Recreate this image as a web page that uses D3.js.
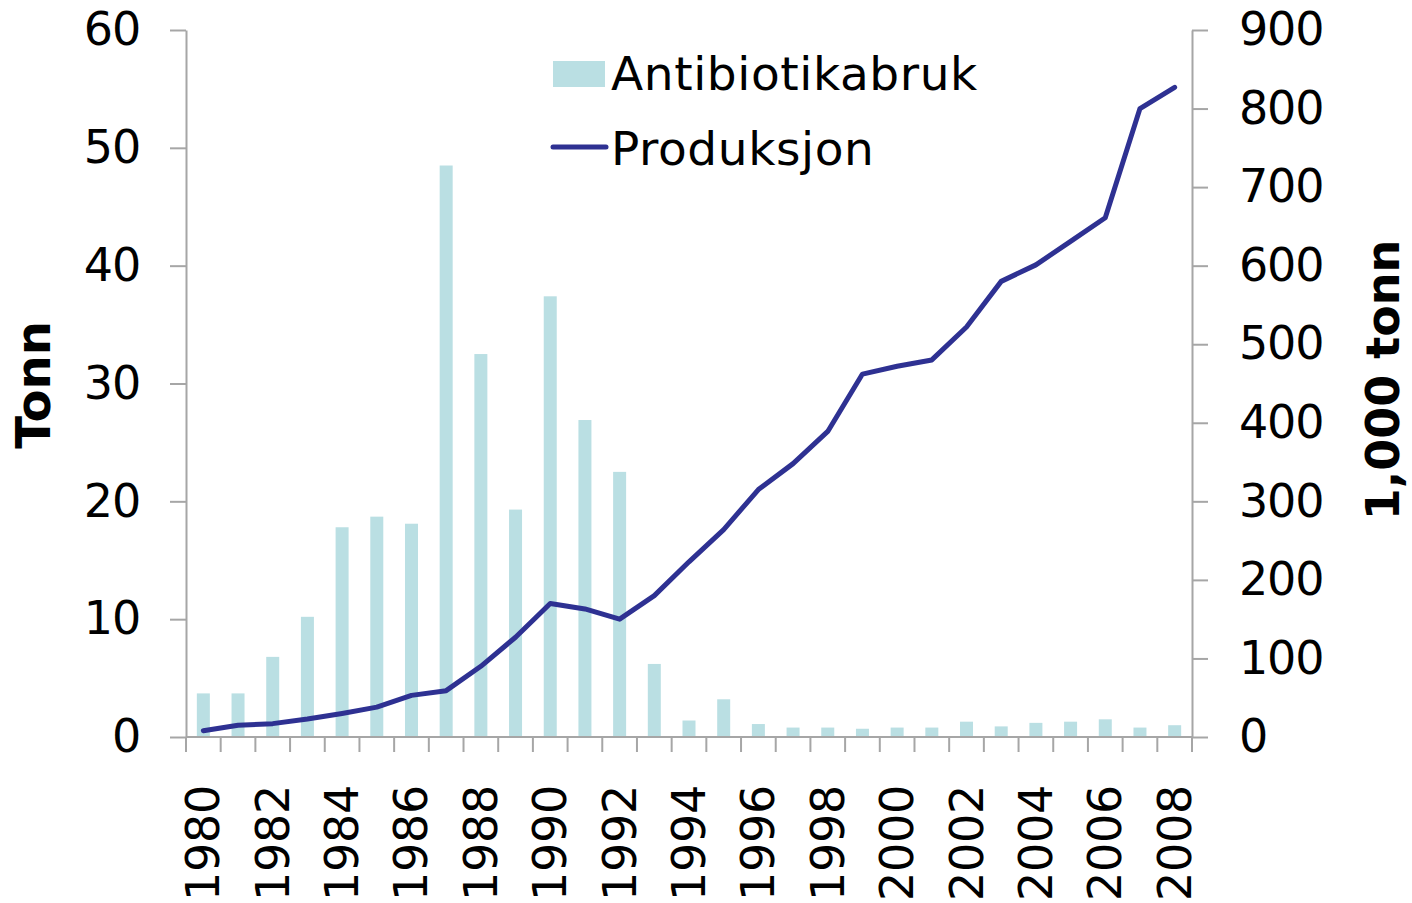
<!DOCTYPE html>
<html>
<head>
<meta charset="utf-8">
<script src="https://cdn.jsdelivr.net/npm/d3@7"></script>
<style>
  html, body { margin: 0; padding: 0; background: #fff; }
  svg { display: block; font-family: "DejaVu Sans", Verdana, sans-serif; }
</style>
</head>
<body>
<svg id="chart" width="1412" height="903"></svg>
<script>
const years = [1980,1981,1982,1983,1984,1985,1986,1987,1988,1989,1990,1991,1992,1993,1994,1995,1996,1997,1998,1999,2000,2001,2002,2003,2004,2005,2006,2007,2008];
const antibiotikabruk = [3.7,3.7,6.8,10.2,17.8,18.7,18.1,48.5,32.5,19.3,37.4,26.9,22.5,6.2,1.4,3.2,1.1,0.8,0.8,0.7,0.8,0.8,1.3,0.9,1.2,1.3,1.5,0.8,1.0];
const produksjon = [8,15,17,23,30,38,53,59,90,127,170,163,150,180,223,264,315,348,389,462,472,480,522,580,601,631,661,800,827];
const leftTicks = [0,10,20,30,40,50,60];
const rightTicks = [0,100,200,300,400,500,600,700,800,900];
const yearLabels = years.filter(y => y % 2 === 0);
const seriesNames = ["Antibiotikabruk", "Produksjon"];
const titles = { left: "Tonn", right: "1,000 tonn" };

const svg = d3.select("#chart");
const L = 186, R = 1192, T = 30, B = 737;
const axisColor = "#a6a6a6";
const barColor = "#badfe3";
const lineColor = "#2e3192";

const x = d3.scaleBand().domain(years).range([L, R]).paddingInner(0).paddingOuter(0);
const yL = d3.scaleLinear().domain([0, 60]).range([B, T]);
const yR = d3.scaleLinear().domain([0, 900]).range([B, T]);

// Bars
const bw = 13;
svg.append("g").selectAll("rect").data(years).join("rect")
  .attr("x", (d) => x(d) + x.bandwidth() / 2 - bw / 2)
  .attr("y", (d, i) => yL(antibiotikabruk[i]))
  .attr("width", bw)
  .attr("height", (d, i) => B - yL(antibiotikabruk[i]))
  .attr("fill", barColor);

// Left axis
const gL = svg.append("g").attr("transform", `translate(${L},0)`)
  .call(d3.axisLeft(yL).tickValues(leftTicks).tickSize(16).tickSizeOuter(0).tickPadding(30));
// Right axis
const gR = svg.append("g").attr("transform", `translate(${R},0)`)
  .call(d3.axisRight(yR).tickValues(rightTicks).tickSize(16).tickSizeOuter(0).tickPadding(31));
// Bottom axis: ticks at category boundaries
const gB = svg.append("g");
gB.append("line").attr("x1", L).attr("x2", R).attr("y1", B).attr("y2", B);
const bounds = years.map(d => x(d)).concat([x(years[years.length - 1]) + x.bandwidth()]);
gB.selectAll("line.tk").data(bounds).join("line").attr("class", "tk")
  .attr("x1", d => d).attr("x2", d => d).attr("y1", B).attr("y2", B + 15);
gB.selectAll("line").attr("stroke", axisColor).attr("stroke-width", 2);
gB.selectAll("text").data(yearLabels).join("text")
  .attr("transform", d => `translate(${x(d) + x.bandwidth() / 2},785) rotate(-90)`)
  .attr("text-anchor", "end")
  .attr("dominant-baseline", "central")
  .attr("font-size", 46)
  .attr("letter-spacing", -0.3)
  .attr("fill", "#000")
  .text(d => d);

[gL, gR].forEach(g => {
  g.select(".domain").attr("stroke", axisColor).attr("stroke-width", 2);
  g.selectAll(".tick line").attr("stroke", axisColor).attr("stroke-width", 2);
  g.selectAll(".tick text").attr("font-size", 46).attr("fill", "#000")
    .attr("font-family", "DejaVu Sans, Verdana, sans-serif").attr("letter-spacing", -1.2);
});

// Line
const line = d3.line().x((d, i) => x(years[i]) + x.bandwidth() / 2).y(d => yR(d));
svg.append("path").datum(produksjon)
  .attr("d", line).attr("fill", "none")
  .attr("stroke", lineColor).attr("stroke-width", 5)
  .attr("stroke-linejoin", "round").attr("stroke-linecap", "round");

// Axis titles
svg.append("text").attr("transform", "translate(50,385) rotate(-90)")
  .attr("text-anchor", "middle").attr("font-size", 48).attr("font-weight", "bold")
  .text(titles.left);
svg.append("text").attr("transform", "translate(1399,380) rotate(-90)")
  .attr("text-anchor", "middle").attr("font-size", 46).attr("font-weight", "bold")
  .text(titles.right);

// Legend
const lg = svg.append("g");
lg.append("rect").attr("x", 553).attr("y", 61).attr("width", 52).attr("height", 26).attr("fill", barColor);
lg.append("text").attr("x", 611).attr("y", 90).attr("font-size", 47).attr("letter-spacing", 0.6).text(seriesNames[0]);
lg.append("line").attr("x1", 553).attr("x2", 606).attr("y1", 147).attr("y2", 147)
  .attr("stroke", lineColor).attr("stroke-width", 5).attr("stroke-linecap", "round");
lg.append("text").attr("x", 611).attr("y", 165).attr("font-size", 47).attr("letter-spacing", 0.6).text(seriesNames[1]);
</script>
</body>
</html>
